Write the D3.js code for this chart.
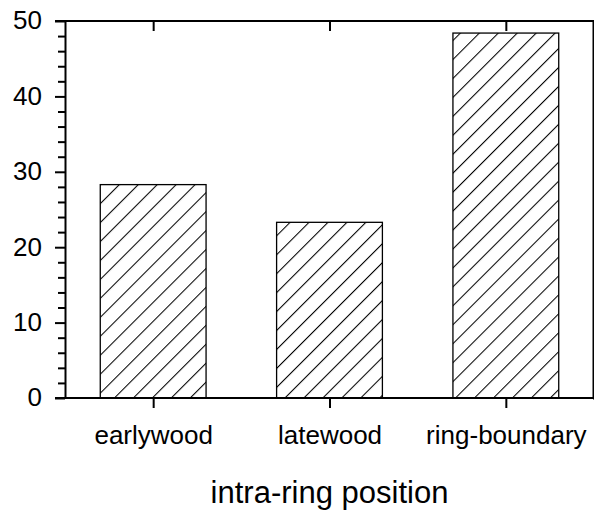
<!DOCTYPE html>
<html>
<head>
<meta charset="utf-8">
<script src="https://cdn.jsdelivr.net/npm/d3@7"></script>
<style>
  html, body { margin: 0; padding: 0; background: #fff; }
  svg { display: block; }
  text { font-family: "Liberation Sans", Arial, Helvetica, sans-serif; fill: #000; }
</style>
</head>
<body>
<svg id="chart" width="594" height="510"></svg>
<script>
// Share of observations by position within the annual ring (%)
const categories = ["earlywood", "latewood", "ring-boundary"];
const values = [28.3, 23.3, 48.4];
const yTicks = [0, 10, 20, 30, 40, 50];
const yMinorTicks = [2, 4, 6, 8, 12, 14, 16, 18, 22, 24, 26, 28, 32, 34, 36, 38, 42, 44, 46, 48];
const xTitle = "intra-ring position";

const W = 594, H = 510;
const m = { left: 65, right: 0, top: 21, bottom: 112 };
const x0 = m.left, x1 = W - m.right, y0 = H - m.bottom, y1 = m.top;

const svg = d3.select("#chart");

const x = d3.scaleBand()
  .domain(categories)
  .range([x0, x1])
  .paddingInner(0.4)
  .paddingOuter(0.2);

const y = d3.scaleLinear().domain([0, 50]).range([y0, y1]);

// diagonal hatch fill
const defs = svg.append("defs");
const pat = defs.append("pattern")
  .attr("id", "hatch")
  .attr("patternUnits", "userSpaceOnUse")
  .attr("width", 13.4)
  .attr("height", 10)
  .attr("patternTransform", "rotate(45)");
pat.append("line")
  .attr("x1", 0.5).attr("y1", -1)
  .attr("x2", 0.5).attr("y2", 11)
  .attr("stroke", "#000")
  .attr("stroke-width", 1.1);

// bars
svg.append("g").selectAll("rect")
  .data(categories)
  .join("rect")
  .attr("x", d => x(d))
  .attr("y", (d, i) => y(values[i]))
  .attr("width", x.bandwidth())
  .attr("height", (d, i) => y(0) - y(values[i]))
  .attr("fill", "url(#hatch)")
  .attr("stroke", "#000")
  .attr("stroke-width", 1.3);

const axisStyle = g => {
  g.selectAll(".domain").attr("stroke", "#000").attr("stroke-width", 2);
  g.selectAll(".tick line").attr("stroke", "#000").attr("stroke-width", 2);
};

// left axis: major ticks with labels, minor ticks
svg.append("g")
  .attr("transform", `translate(${x0},0)`)
  .call(d3.axisLeft(y).tickValues(yTicks).tickSize(10).tickSizeOuter(0).tickPadding(13).tickFormat(d3.format("d")))
  .call(axisStyle)
  .call(g => g.selectAll("text").attr("font-size", 26).attr("dy", "0.3em"));
svg.append("g")
  .attr("transform", `translate(${x0},0)`)
  .call(d3.axisLeft(y).tickValues(yMinorTicks).tickSize(7).tickSizeOuter(0).tickFormat(""))
  .call(axisStyle)
  .call(g => g.select(".domain").remove());

// right axis: inward ticks
svg.append("g")
  .attr("transform", `translate(${x1 - 1},0)`)
  .call(d3.axisLeft(y).tickValues(yTicks).tickSize(-10).tickSizeOuter(0).tickFormat(""))
  .call(axisStyle);
svg.append("g")
  .attr("transform", `translate(${x1 - 1},0)`)
  .call(d3.axisLeft(y).tickValues(yMinorTicks).tickSize(-7).tickSizeOuter(0).tickFormat(""))
  .call(axisStyle)
  .call(g => g.select(".domain").remove());

// bottom axis with category labels
const bandCenter = d3.scalePoint().domain(categories).range([x(categories[0]) + x.bandwidth() / 2, x(categories[2]) + x.bandwidth() / 2]);
svg.append("g")
  .attr("transform", `translate(0,${y0})`)
  .call(d3.axisBottom(bandCenter).tickSize(10).tickSizeOuter(0).tickPadding(18))
  .call(axisStyle)
  .call(g => g.select(".domain").attr("d", `M${x0 - 10},0H${x1}`))
  .call(g => g.selectAll("text").attr("font-size", 26));

// top axis: inward ticks
svg.append("g")
  .attr("transform", `translate(0,${y1})`)
  .call(d3.axisTop(bandCenter).tickSize(-10).tickSizeOuter(0).tickFormat(""))
  .call(axisStyle)
  .call(g => g.select(".domain").attr("d", `M${x0 - 10},0H${x1}`));

// axis title
svg.append("text")
  .attr("x", (x0 + x1) / 2)
  .attr("y", 503)
  .attr("text-anchor", "middle")
  .attr("font-size", 31)
  .text(xTitle);
</script>
</body>
</html>
